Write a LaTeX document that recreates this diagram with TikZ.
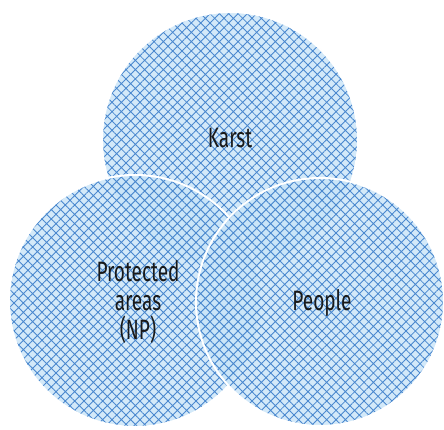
\documentclass[tikz,border=0pt]{standalone}
\usepackage{fontspec}
\setmainfont[FakeStretch=0.68]{Fira Sans}
\usetikzlibrary{patterns.meta,positioning}
\definecolor{vennfill}{HTML}{C8E4F8}
\definecolor{vennhatch}{HTML}{4A88CE}

\tikzset{
	vennset/.style={fill=vennfill, fill opacity=0.8},
	vennhatch/.style={pattern={Hatch[angle=45,distance=6.6pt,line width=0.85pt]}, pattern color=vennhatch, fill opacity=0.6},
	vennrim/.style={draw=white, line width=2pt},
	vennlabel/.style={font=\fontsize{28}{29}\selectfont, text=black!90, align=center}
}

\begin{document}
\begin{tikzpicture}[x=1pt,y=1pt]
	\useasboundingbox (0,0) rectangle (444,429);
	% top set
	\fill[vennset] (230,289) circle[radius=128pt];
	\fill[vennhatch] (230,289) circle[radius=128pt];
	\draw[vennrim] (230,289) circle[radius=128pt];
	% left set
	\fill[vennset] (135,128) circle[radius=126pt];
	\fill[vennhatch] (135,128) circle[radius=126pt];
	\draw[vennrim] (135,128) circle[radius=126pt];
	% right set
	\fill[vennset] (320,127) circle[radius=124pt];
	\fill[vennhatch] (320,127) circle[radius=124pt];
	\draw[vennrim] (320,127) circle[radius=124pt];
	\node[vennlabel] (karst) at (230,291) {Karst};
	\node[vennlabel] (protected) at (138,127) {Protected\\areas\\(NP)};
	\node[vennlabel] (people) at (322,126) {People};
\end{tikzpicture}
\end{document}
